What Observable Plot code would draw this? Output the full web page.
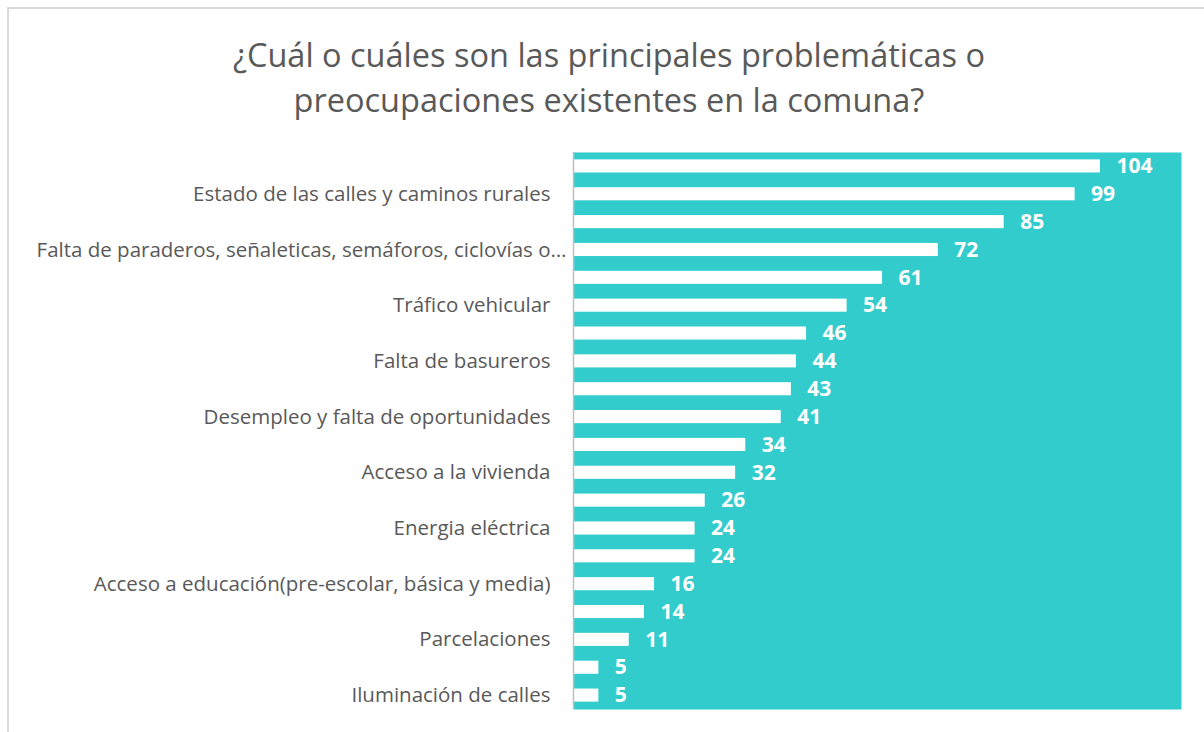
<!DOCTYPE html>
<html>
<head>
<meta charset="utf-8">
<script src="https://cdn.jsdelivr.net/npm/d3@7"></script>
<script src="https://cdn.jsdelivr.net/npm/@observablehq/plot@0.6"></script>
<style>
  body { margin: 0; background: #fff; }
  #wrap { position: relative; width: 1204px; height: 732px; overflow: hidden; }
  #border { position: absolute; left: 7px; top: 7px; width: 1300px; height: 800px; border: 2px solid #d9d9d9; box-sizing: border-box; }
  #title { position: relative; text-align: center; font-family: "Open Sans", sans-serif; font-size: 32.5px; line-height: 45px; color: #595959; padding-top: 32px; padding-left: 14px; height: 90px; white-space: nowrap; }
  #chart { position: relative; }
</style>
</head>
<body>
<div id="wrap">
  <div id="border"></div>
  <div id="title">¿Cuál o cuáles son las principales problemáticas o<br>preocupaciones existentes en la comuna?</div>
  <div id="chart"></div>
</div>
<script>
// Categories in display order (top to bottom). Odd-position names are not shown in the source chart.
const categories = [
  "Problemática A",
  "Estado de las calles y caminos rurales",
  "Problemática B",
  "Falta de paraderos, señaleticas, semáforos, ciclovías o…",
  "Problemática C",
  "Tráfico vehicular",
  "Problemática D",
  "Falta de basureros",
  "Problemática E",
  "Desempleo y falta de oportunidades",
  "Problemática F",
  "Acceso a la vivienda",
  "Problemática G",
  "Energia eléctrica",
  "Problemática H",
  "Acceso a educación(pre-escolar, básica y media)",
  "Problemática I",
  "Parcelaciones",
  "Problemática J",
  "Iluminación de calles"
];
const values = [104, 99, 85, 72, 61, 54, 46, 44, 43, 41, 34, 32, 26, 24, 24, 16, 14, 11, 5, 5];
const shownLabels = categories.filter((d, i) => i % 2 === 1);
const truncatedLabel = categories[3];
const xMax = 120;

const data = categories.map((c, i) => ({category: c, value: values[i]}));

const chart = Plot.plot({
  width: 1204,
  height: 610,
  marginTop: 30,
  marginBottom: 23,
  marginLeft: 573,
  marginRight: 23,
  style: {fontFamily: "'Open Sans', sans-serif", fontSize: "20.5px", color: "#595959", background: "transparent"},
  x: {domain: [0, xMax], axis: null},
  y: {domain: categories, paddingInner: 0.53, paddingOuter: 0.265, round: false, label: null},
  marks: [
    Plot.frame({fill: "#33CCCC", stroke: null}),
    Plot.barX(data, {y: "category", x: "value", fill: "#ffffff"}),
    Plot.ruleX([0], {stroke: "#bfbfbf", strokeWidth: 1.5}),
    Plot.text(data, {y: "category", x: "value", text: d => String(d.value), dx: 16, textAnchor: "start", fill: "#ffffff", fontWeight: "bold", fontSize: 21}),
    Plot.axisY({ticks: shownLabels.filter(d => d !== truncatedLabel), tickSize: 0, tickPadding: 23, fontSize: 20.5, fill: "#595959"}),
    Plot.axisY({ticks: [truncatedLabel], tickSize: 0, tickPadding: 7, fontSize: 20.5, fill: "#595959", textStroke: null})
  ]
});
document.getElementById("chart").appendChild(chart);
</script>
</body>
</html>
